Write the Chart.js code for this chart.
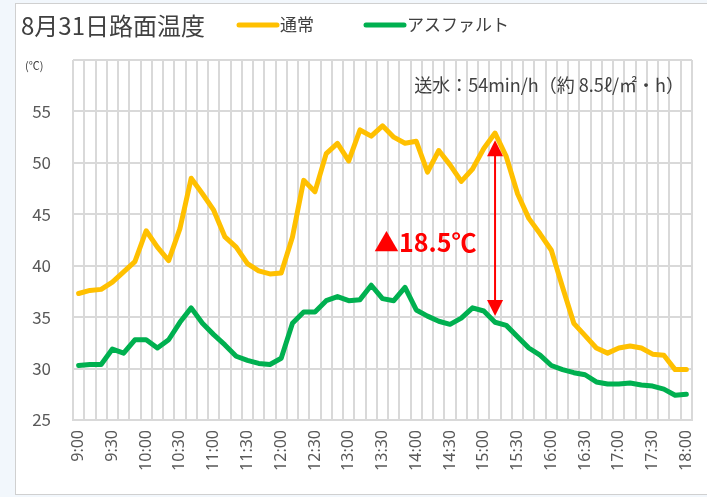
<!DOCTYPE html>
<html>
<head>
<meta charset="utf-8">
<script src="https://cdn.jsdelivr.net/npm/chart.js@4/dist/chart.umd.min.js"></script>
<style>
  html, body { margin: 0; padding: 0; overflow: hidden; background: #f2f7fc; }
  #wrap { position: absolute; left: 0; top: 0; width: 707px; height: 497px; }
</style>
</head>
<body>
<div id="wrap"><canvas id="chart" width="707" height="497"></canvas></div>
<script>
// Time of day, every 10 minutes
const times = [
    '9:00', '9:10', '9:20', '9:30', '9:40', '9:50',
    '10:00', '10:10', '10:20', '10:30', '10:40', '10:50',
    '11:00', '11:10', '11:20', '11:30', '11:40', '11:50',
    '12:00', '12:10', '12:20', '12:30', '12:40', '12:50',
    '13:00', '13:10', '13:20', '13:30', '13:40', '13:50',
    '14:00', '14:10', '14:20', '14:30', '14:40', '14:50',
    '15:00', '15:10', '15:20', '15:30', '15:40', '15:50',
    '16:00', '16:10', '16:20', '16:30', '16:40', '16:50',
    '17:00', '17:10', '17:20', '17:30', '17:40', '17:50',
    '18:00'
];

// Road surface temperature (°C) - normal pavement
const normalTemp = [
    37.3, 37.6, 37.7, 38.4, 39.4, 40.4, 43.4, 41.8, 40.5, 43.6,
    48.5, 47.0, 45.4, 42.8, 41.8, 40.2, 39.5, 39.2, 39.3, 42.8,
    48.3, 47.2, 50.9, 51.9, 50.2, 53.2, 52.6, 53.6, 52.5, 51.9,
    52.1, 49.1, 51.2, 49.8, 48.2, 49.4, 51.4, 52.9, 50.6, 47.0,
    44.6, 43.1, 41.5, 37.9, 34.4, 33.2, 32.0, 31.5, 32.0, 32.2,
    32.0, 31.4, 31.3, 29.9, 29.9
];

// Road surface temperature (°C) - asphalt with water supply
const asphaltTemp = [
    30.3, 30.4, 30.4, 31.9, 31.5, 32.8, 32.8, 32.0, 32.8, 34.5,
    35.9, 34.4, 33.3, 32.3, 31.2, 30.8, 30.5, 30.4, 31.0, 34.4,
    35.5, 35.5, 36.6, 37.0, 36.6, 36.7, 38.1, 36.8, 36.6, 37.9,
    35.7, 35.1, 34.6, 34.3, 34.9, 35.9, 35.6, 34.5, 34.2, 33.1,
    32.0, 31.3, 30.3, 29.9, 29.6, 29.4, 28.7, 28.5, 28.5, 28.6,
    28.4, 28.3, 28.0, 27.4, 27.5
];

// Temperature difference arrow (category index, top / bottom values)
const diffIndex = 37;
const diffTop = 52.2;
const diffBottom = 35.1;
const diffLabel = '▲18.5℃';

const cjk = '"Noto Sans CJK JP", "Noto Sans", sans-serif';
const textColor = '#404040';
const gridColor = '#d9d9d9';

// Frame, title, legend and notes drawn around the plot
const decorPlugin = {
    id: 'decor',
    beforeDraw(chart) {
        const c = chart.ctx;
        c.save();
        c.fillStyle = '#f2f7fc';
        c.fillRect(0, 0, chart.width, chart.height);
        c.fillStyle = '#ffffff';
        c.fillRect(15, 3, 720, 492);
        c.strokeStyle = '#d0d0d0';
        c.lineWidth = 1;
        c.strokeRect(15.5, 3.5, 720, 491);
        c.restore();
    },
    afterDraw(chart) {
        const c = chart.ctx;
        c.save();
        c.textBaseline = 'middle';
        c.fillStyle = textColor;

        // title
        c.font = '24px ' + cjk;
        c.textAlign = 'left';
        c.fillText('8月31日路面温度', 21, 26);

        // legend
        const legend = [
            { label: '通常', color: '#FFC000', x: 237 },
            { label: 'アスファルト', color: '#00B050', x: 364 }
        ];
        legend.forEach(item => {
            c.strokeStyle = item.color;
            c.lineWidth = 5;
            c.lineCap = 'round';
            c.beginPath();
            c.moveTo(item.x + 2, 25);
            c.lineTo(item.x + 40, 25);
            c.stroke();
            c.fillStyle = textColor;
            c.font = '17px ' + cjk;
            c.fillText(item.label, item.x + 43, 25);
        });

        // unit
        c.font = '11px ' + cjk;
        c.fillText('(℃)', 25, 66);

        // water supply note
        c.font = '18px ' + cjk;
        c.textAlign = 'right';
        c.fillText('送水：54min/h（約 8.5ℓ/㎡・h）', 684, 85);
        c.restore();
    },
    afterDatasetsDraw(chart) {
        const c = chart.ctx;
        const xs = chart.scales.x;
        const ys = chart.scales.y;
        const x = xs.getPixelForValue(diffIndex);
        const yTop = ys.getPixelForValue(diffTop);
        const yBot = ys.getPixelForValue(diffBottom);
        const headH = 16, headW = 8;
        c.save();
        c.strokeStyle = '#ff0000';
        c.fillStyle = '#ff0000';
        c.lineWidth = 2;
        c.beginPath();
        c.moveTo(x, yTop + headH - 2);
        c.lineTo(x, yBot - headH + 2);
        c.stroke();
        c.beginPath();
        c.moveTo(x, yTop);
        c.lineTo(x - headW, yTop + headH);
        c.lineTo(x + headW, yTop + headH);
        c.closePath();
        c.fill();
        c.beginPath();
        c.moveTo(x, yBot);
        c.lineTo(x - headW, yBot - headH);
        c.lineTo(x + headW, yBot - headH);
        c.closePath();
        c.fill();

        // difference label
        c.font = 'bold 25px ' + cjk;
        c.textAlign = 'center';
        c.textBaseline = 'middle';
        c.fillText(diffLabel, xs.getPixelForValue(30.8), ys.getPixelForValue(42.3));
        c.restore();
    }
};

new Chart(document.getElementById('chart').getContext('2d'), {
    type: 'line',
    data: {
        labels: times,
        datasets: [{
            label: '通常',
            data: normalTemp,
            borderColor: '#FFC000',
            borderWidth: 5,
            pointRadius: 0,
            tension: 0,
            borderJoinStyle: 'round',
            borderCapStyle: 'round'
        }, {
            label: 'アスファルト',
            data: asphaltTemp,
            borderColor: '#00B050',
            borderWidth: 5,
            pointRadius: 0,
            tension: 0,
            borderJoinStyle: 'round',
            borderCapStyle: 'round'
        }]
    },
    options: {
        responsive: false,
        animation: false,
        layout: { padding: { left: 0, top: 60, right: 15, bottom: 0 } },
        plugins: {
            legend: { display: false },
            tooltip: { enabled: false }
        },
        scales: {
            x: {
                offset: true,
                grid: { offset: true, color: gridColor, lineWidth: 2, drawTicks: false },
                border: { color: gridColor, width: 2 },
                ticks: {
                    autoSkip: false,
                    minRotation: 90,
                    maxRotation: 90,
                    padding: 10,
                    color: '#595959',
                    font: { family: '"Noto Sans", sans-serif', size: 16 },
                    callback: (val, idx) => idx % 3 === 0 ? times[idx] : ''
                },
                afterFit: scale => {
                    scale.height = 77;
                    scale.paddingLeft = 0;
                    scale.paddingRight = 0;
                }
            },
            y: {
                min: 25,
                max: 60,
                grid: { color: gridColor, lineWidth: 2, drawTicks: false },
                border: { display: false },
                ticks: {
                    stepSize: 5,
                    padding: 22,
                    color: '#595959',
                    font: { family: cjk, size: 17 },
                    callback: v => v === 60 ? '' : v
                },
                afterFit: scale => {
                    scale.width = 73;
                    scale.paddingTop = 0;
                    scale.paddingBottom = 0;
                }
            }
        }
    },
    plugins: [decorPlugin]
});
</script>
</body>
</html>
